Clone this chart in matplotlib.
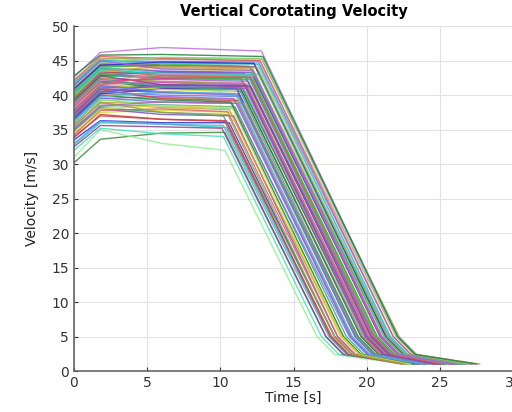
import matplotlib
matplotlib.use("Agg")
import matplotlib.pyplot as plt

# per-curve breakpoints (velocity in m/s, time in s)
v_start = [30.2, 31.0, 32.0, 32.8, 33.5, 34.0, 34.5, 35.0, 35.2, 35.6,
           36.0, 36.2, 36.5, 36.8, 37.0, 37.3, 37.6, 37.8, 38.0, 38.3,
           38.5, 38.8, 39.0, 39.3, 39.5, 39.8, 40.0, 40.3, 40.6, 40.8,
           41.0, 41.3, 41.6, 42.0, 42.6, 32.5, 33.0, 34.2, 35.8, 37.4,
           38.6, 39.6, 40.5, 41.8, 36.6, 37.2, 38.2, 39.2, 34.8, 35.4,
           36.0, 37.0, 38.0, 39.0, 40.0, 41.0, 41.5, 42.2, 35.0, 36.4,
           37.5, 38.4, 39.4, 40.2, 40.9, 33.8, 34.6, 36.8, 38.8, 39.8,
           41.2, 37.8, 38.6, 35.5, 40.4, 39.2, 36.3, 37.9, 41.4, 42.8]
v_top = [33.6, 35.0, 35.2, 36.0, 36.3, 37.0, 37.5, 38.0, 38.4, 38.8,
         39.2, 39.6, 40.0, 40.3, 40.6, 40.9, 41.2, 41.4, 41.7, 41.9,
         42.2, 42.4, 42.7, 42.9, 43.2, 43.4, 43.7, 43.9, 44.2, 44.4,
         44.6, 44.8, 45.0, 45.3, 46.2, 35.6, 36.2, 37.8, 39.5, 41.0,
         42.0, 43.0, 44.0, 45.1, 40.2, 40.8, 41.6, 42.8, 38.2, 38.9,
         39.4, 40.5, 41.5, 42.5, 43.6, 44.5, 45.0, 45.6, 38.5, 40.0,
         41.0, 42.0, 43.0, 43.8, 44.3, 37.2, 38.0, 40.4, 42.3, 43.4,
         44.7, 41.3, 42.1, 39.0, 44.0, 42.8, 39.8, 41.5, 45.0, 45.8]
v_mid = [34.5, 33.0, 34.4, 35.8, 36.0, 36.5, 37.8, 37.2, 38.6, 38.2,
         39.5, 39.0, 40.3, 39.7, 41.0, 40.4, 41.4, 41.0, 41.8, 41.2,
         42.3, 41.9, 42.8, 42.4, 43.3, 42.9, 43.8, 43.5, 44.2, 44.0,
         44.6, 44.9, 45.2, 45.4, 46.9, 35.4, 35.8, 38.0, 39.8, 41.5,
         41.5, 42.5, 44.5, 44.8, 40.9, 39.5, 40.8, 43.4, 37.5, 39.0,
         38.4, 40.0, 42.0, 42.0, 43.0, 44.3, 44.6, 45.3, 39.0, 39.3,
         41.2, 42.4, 42.6, 43.0, 44.8, 36.5, 38.5, 41.5, 41.2, 44.2,
         45.5, 40.5, 43.0, 37.5, 43.2, 41.5, 40.5, 42.8, 43.8, 45.9]
v_brake = [34.6, 32.0, 34.0, 35.3, 36.0, 36.2, 37.5, 37.0, 38.3, 37.9,
           39.0, 38.8, 40.0, 39.4, 40.5, 40.2, 41.0, 40.8, 41.5, 41.0,
           42.0, 41.7, 42.5, 42.2, 43.0, 42.8, 43.5, 43.3, 44.0, 43.8,
           44.5, 44.8, 45.0, 45.3, 46.4, 35.2, 35.6, 37.6, 39.5, 41.3,
           41.2, 42.6, 44.2, 44.6, 41.0, 39.2, 40.5, 43.2, 37.0, 38.8,
           38.0, 39.8, 41.8, 41.6, 42.9, 44.1, 44.5, 45.0, 38.8, 39.0,
           41.0, 42.4, 42.3, 42.7, 44.6, 36.3, 38.2, 41.4, 40.8, 44.0,
           45.2, 40.0, 42.8, 37.2, 43.0, 41.3, 40.2, 42.6, 43.6, 45.6]
t_brake = [10.3, 10.3, 10.2, 10.4, 10.6, 10.3, 10.7, 10.9, 11.0, 10.6,
           11.2, 10.8, 11.3, 11.0, 11.5, 11.2, 11.6, 11.4, 11.8, 11.5,
           11.9, 11.7, 12.0, 11.8, 12.2, 12.0, 12.3, 12.1, 12.4, 12.2,
           12.5, 12.6, 12.7, 12.8, 12.8, 10.1, 10.2, 10.5, 10.9, 11.3,
           12.1, 12.4, 12.0, 12.3, 11.1, 11.4, 11.0, 11.6, 10.2, 11.6,
           10.9, 11.3, 11.6, 11.8, 12.1, 12.4, 12.6, 12.7, 11.2, 10.7,
           11.8, 11.4, 12.2, 11.9, 12.3, 10.4, 10.8, 11.7, 11.3, 12.5,
           12.9, 11.2, 12.4, 10.5, 12.6, 12.0, 11.0, 12.0, 12.2, 12.9]
t_knee = [17.2, 16.6, 16.9, 17.5, 17.8, 17.6, 18.2, 18.0, 18.6, 18.3,
          19.0, 18.8, 19.3, 18.9, 19.6, 19.4, 19.8, 19.7, 20.1, 19.9,
          20.3, 20.2, 20.6, 20.4, 20.9, 20.7, 21.1, 21.0, 21.4, 21.2,
          21.6, 21.8, 22.0, 22.2, 22.1, 17.2, 17.4, 18.0, 18.9, 19.6,
          20.4, 20.9, 21.2, 21.5, 19.3, 19.2, 19.2, 20.5, 17.8, 19.3,
          18.4, 19.2, 20.0, 20.1, 20.7, 21.3, 21.6, 21.8, 18.9, 18.4,
          20.0, 19.9, 20.7, 20.5, 21.3, 17.5, 18.3, 20.0, 19.4, 21.4,
          22.0, 19.2, 21.0, 17.8, 21.2, 20.3, 19.0, 20.5, 21.0, 22.1]
t_tail = [18.4, 17.8, 18.1, 18.7, 19.0, 18.8, 19.4, 19.2, 19.8, 19.5,
          20.2, 20.0, 20.5, 20.1, 20.8, 20.6, 21.0, 20.9, 21.3, 21.1,
          21.5, 21.4, 21.8, 21.6, 22.1, 21.9, 22.3, 22.2, 22.6, 22.4,
          22.8, 23.0, 23.2, 23.4, 23.3, 18.4, 18.6, 19.2, 20.1, 20.8,
          21.6, 22.1, 22.4, 22.7, 20.5, 20.4, 20.4, 21.7, 19.0, 20.5,
          19.6, 20.4, 21.2, 21.3, 21.9, 22.5, 22.8, 23.0, 20.1, 19.6,
          21.2, 21.1, 21.9, 21.7, 22.5, 18.7, 19.5, 21.2, 20.6, 22.6,
          23.2, 20.4, 22.2, 19.0, 22.4, 21.5, 20.2, 21.7, 22.2, 23.3]
t_end = [22.8, 22.5, 23.0, 23.4, 23.6, 23.5, 24.0, 23.8, 24.3, 24.1,
         24.6, 24.5, 24.9, 24.4, 25.2, 25.0, 25.4, 25.1, 25.6, 25.3,
         25.8, 25.7, 26.0, 25.9, 26.3, 26.1, 26.5, 26.4, 26.7, 26.6,
         26.9, 27.1, 27.3, 27.7, 27.2, 23.2, 23.3, 23.9, 24.7, 25.2,
         25.9, 26.2, 26.5, 26.8, 24.9, 24.8, 24.7, 26.0, 23.5, 24.8,
         23.1, 23.9, 24.6, 24.9, 25.3, 26.0, 26.4, 26.8, 23.6, 23.2,
         24.8, 24.6, 25.4, 25.2, 26.1, 22.4, 23.0, 24.7, 24.0, 26.2,
         27.0, 24.1, 25.8, 22.6, 26.0, 25.0, 23.8, 25.2, 25.9, 27.5]
t_top = 1.8
t_mid = 6.0
v_knee = 5.0
v_tail = 2.4
v_end = 1.0

colors = ["#b05cc8", "#e0409a", "#30c030", "#20c0c0", "#3030d0",
          "#d04040", "#d8d840", "#7a50d0", "#40a080", "#c8a040",
          "#80e080", "#6080e0", "#e080c0", "#a0a040", "#40d0a0",
          "#904090", "#50b0e0", "#e06060", "#a060e0", "#208040"]
special = {0: "#3a8a3a", 1: "#90f090", 2: "#40e0c0", 34: "#c070e0"}

fig = plt.figure(figsize=(5.12, 4.12), dpi=100)
ax = fig.add_axes([0.1445, 0.0995, 0.858, 0.837])

for i in range(len(v_start)):
    ts = [0, t_top, t_mid, t_brake[i], t_knee[i], t_tail[i], t_end[i]]
    vs = [v_start[i], v_top[i], v_mid[i], v_brake[i], v_knee, v_tail, v_end]
    c = special.get(i, colors[i % len(colors)])
    ax.plot(ts, vs, color=c, lw=1.0, alpha=0.85)

ax.set_xlim(0, 30)
ax.set_ylim(0, 50)
ax.set_xticks(range(0, 31, 5))
ax.set_yticks(range(0, 51, 5))
ax.grid(True, color="#e3e3e3", lw=0.8)
ax.set_axisbelow(True)
for s in ["top", "right"]:
    ax.spines[s].set_visible(False)
for s in ["left", "bottom"]:
    ax.spines[s].set_color("#666666")
    ax.spines[s].set_linewidth(1.2)
ax.tick_params(direction="in", length=3, labelsize=10, colors="#333333")
ax.set_xlabel("Time [s]", fontsize=10, color="#222222", labelpad=1)
ax.set_ylabel("Velocity [m/s]", fontsize=10, color="#222222", labelpad=9)
ax.set_title("Vertical Corotating Velocity", fontsize=10.5, fontweight="bold", pad=7)

fig.savefig("out.png", dpi=100)
